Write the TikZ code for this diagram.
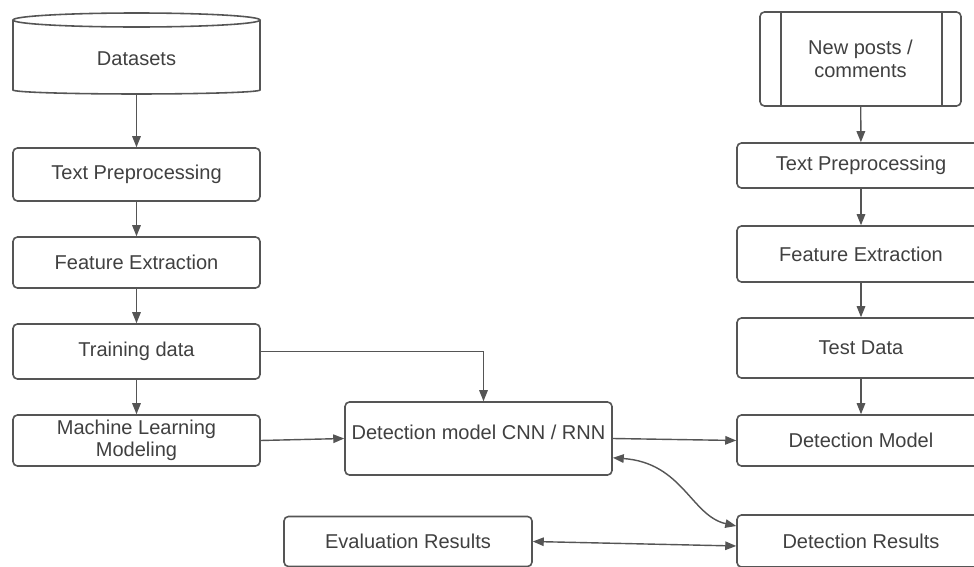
\documentclass[tikz,border=0pt]{standalone}
\usepackage{fontspec}
\setmainfont{Liberation Sans}
\usetikzlibrary{calc, arrows.meta}
\definecolor{linegray}{HTML}{555555}
\definecolor{textgray}{HTML}{404040}

\begin{document}
\begin{tikzpicture}[x=0.02cm, y=-0.02cm,
    box/.style={draw=linegray, line width=0.9pt, rounded corners=2.5pt, fill=white,
      minimum width=4.96cm, text=textgray, align=center, inner sep=2pt,
      font=\fontsize{11.4}{12.8}\selectfont},
    flow/.style={draw=linegray, line width=0.8pt, -{Triangle[length=2.2mm,width=1.7mm]}},
    both/.style={flow, {Triangle[length=2.2mm,width=1.7mm]}-{Triangle[length=2.2mm,width=1.7mm]}}]
  \clip (0,0) rectangle (974,567);
  \fill[white] (0,0) rectangle (974,567);

  % left column: training side
  \node[box, draw=none, fill=none, outer sep=0pt, minimum width=4.94cm, minimum height=1.24cm] (data) at (136.5,59) {Datasets};
  \draw[linegray, line width=0.9pt] ([yshift=0.16cm]data.north west) -- (data.south west)
    arc[start angle=180, end angle=360, x radius=2.47cm, y radius=0.08cm] -- ([yshift=0.16cm]data.north east);
  \draw[linegray, line width=0.9pt] ([yshift=0.16cm]data.north) ellipse[x radius=2.47cm, y radius=0.14cm];
  \node[box, minimum width=4.94cm, minimum height=1.06cm] (tpL) at (136.5,174.5) {Text Preprocessing};
  \node[box, minimum width=4.94cm, minimum height=1.02cm] (feL) at (136.5,262.5) {Feature Extraction};
  \node[box, minimum width=4.94cm, minimum height=1.1cm] (trL) at (136.5,351.5) {Training data};
  \node[box, minimum width=4.94cm, minimum height=1.02cm] (mlL) at (136.5,440.5) {Machine Learning\\Modeling};

  % middle
  \node[box, minimum width=5.34cm, minimum height=1.46cm] (det) at (478.5,438.5)
    {\raisebox{0pt}[\height][\dimexpr\depth+7pt]{Detection model CNN / RNN}};
  \node[box, minimum height=1.0cm] (eval) at (408,541.5) {Evaluation Results};

  % right column: new data side
  \node[box, minimum width=4.02cm, minimum height=1.88cm] (posts) at (860.5,59) {New posts /\\comments};
  \draw[linegray, line width=0.9pt] ([xshift=0.44cm]posts.north west) -- ([xshift=0.44cm]posts.south west);
  \draw[linegray, line width=0.9pt] ([xshift=-0.4cm]posts.north east) -- ([xshift=-0.4cm]posts.south east);
  \node[box, minimum height=0.9cm] (tpR) at (861,165.5) {Text Preprocessing};
  \node[box, minimum height=1.12cm] (feR) at (861,254) {Feature Extraction};
  \node[box, minimum height=1.2cm] (test) at (861,348) {Test Data};
  \node[box, minimum height=1.02cm] (dm) at (861,440.5) {Detection Model};
  \node[box, minimum height=1.04cm] (res) at (861,541) {Detection Results};

  % connectors
  \draw[flow] ([yshift=-0.08cm]data.south) -- (tpL);
  \draw[flow] (tpL) -- (feL);
  \draw[flow] (feL) -- (trL);
  \draw[flow] (trL) -- (mlL);
  \draw[flow] (trL.east) -| ([xshift=0.1cm]det.north);
  \draw[flow] (mlL.east) -- (det.west);
  \draw[flow] (det.east) -- (dm.west);
  \draw[flow] (posts) -- (tpR);
  \draw[flow] (tpR) -- (feR);
  \draw[flow] (feR) -- (test);
  \draw[flow] (test) -- (dm);
  \draw[both] ([yshift=0.36cm]det.south east) .. controls +(1.4cm,-0.1cm) and +(-0.9cm,0.2cm) .. ([yshift=0.3cm]res.west);
  \draw[both] (eval.east) -- ([yshift=-0.1cm]res.west);
\end{tikzpicture}
\end{document}
